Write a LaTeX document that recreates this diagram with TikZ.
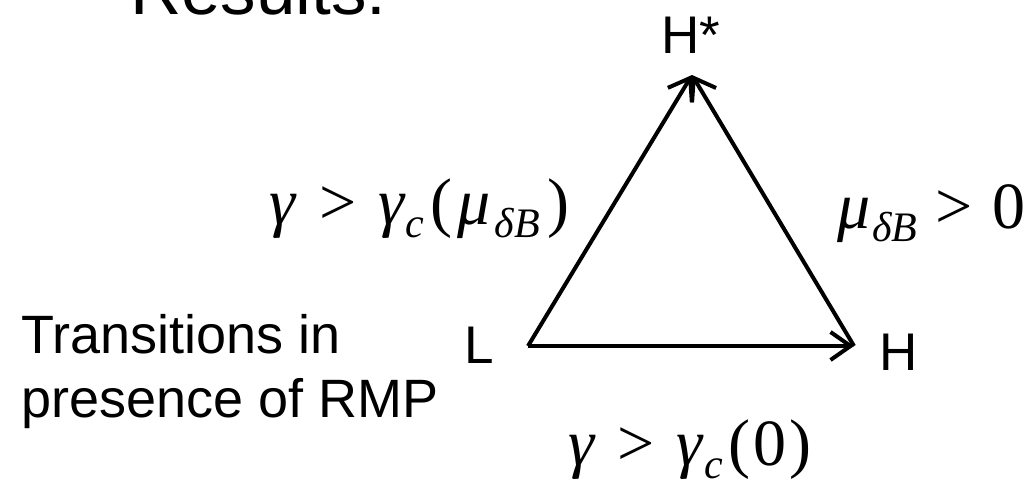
\documentclass[tikz,border=0pt]{standalone}
\usepackage{fontspec}
\setmainfont{Liberation Sans}
\newfontfamily\eqfont{Liberation Serif}
\usepackage{tikz}
\usetikzlibrary{arrows.meta, positioning}
\newcommand{\eqsub}[1]{\raisebox{-13pt}{\fontsize{42}{42}\selectfont\itshape #1}}
\newcommand{\eqgt}{\hspace{22pt}>\hspace{22pt}}

\begin{document}
\begin{tikzpicture}[
    x=1pt, y=-1pt,
    txt/.style={inner sep=0pt, font=\fontsize{53}{64}\selectfont},
    eq/.style={inner sep=0pt, font=\eqfont\fontsize{66}{66}\selectfont},
    trans/.style={-{Straight Barb[length=20pt,width=28pt]}, line width=4pt}
]
    \useasboundingbox (0,0) rectangle (1027,480);

    \coordinate (vL) at (528,346);
    \coordinate (vH) at (854,346);
    \coordinate (vHs) at (692,75);

    \node (title) [txt, font=\fontsize{71}{71}\selectfont, anchor=base west] at (130,14) {Results:};
    \node (hs) [txt, anchor=base west] at (661,53) {H*};
    \node (l) [txt, anchor=base west] at (464,363) {L};
    \node (h) [txt, anchor=base west] at (879,370) {H};
    \node (note) [txt, font=\fontsize{54}{64}\selectfont, align=left, anchor=base west] at (21,417) {Transitions in\\presence of RMP};

    \node (c1) [eq, anchor=base east] at (570,224) {\textit{γ}\eqgt\textit{γ}\eqsub{c}\hspace{6pt}(\hspace{5pt}\textit{μ}\hspace{4pt}\eqsub{δB}\hspace{8pt})};
    \node (c2) [eq, anchor=base east] at (1026,228) {\textit{μ}\hspace{2pt}\eqsub{δB}\hspace{18pt}>\hspace{20pt}0};
    \node (c3) [eq, anchor=base west] at (568,465) {\textit{γ}\eqgt\textit{γ}\eqsub{c}\hspace{6pt}(\hspace{3pt}0\hspace{3pt})};

    % Transitions
    \draw [trans] (vL) -- (vHs);
    \draw [trans] (vH) -- (vHs);
    \draw [trans] (vL) -- (vH);

\end{tikzpicture}
\end{document}
